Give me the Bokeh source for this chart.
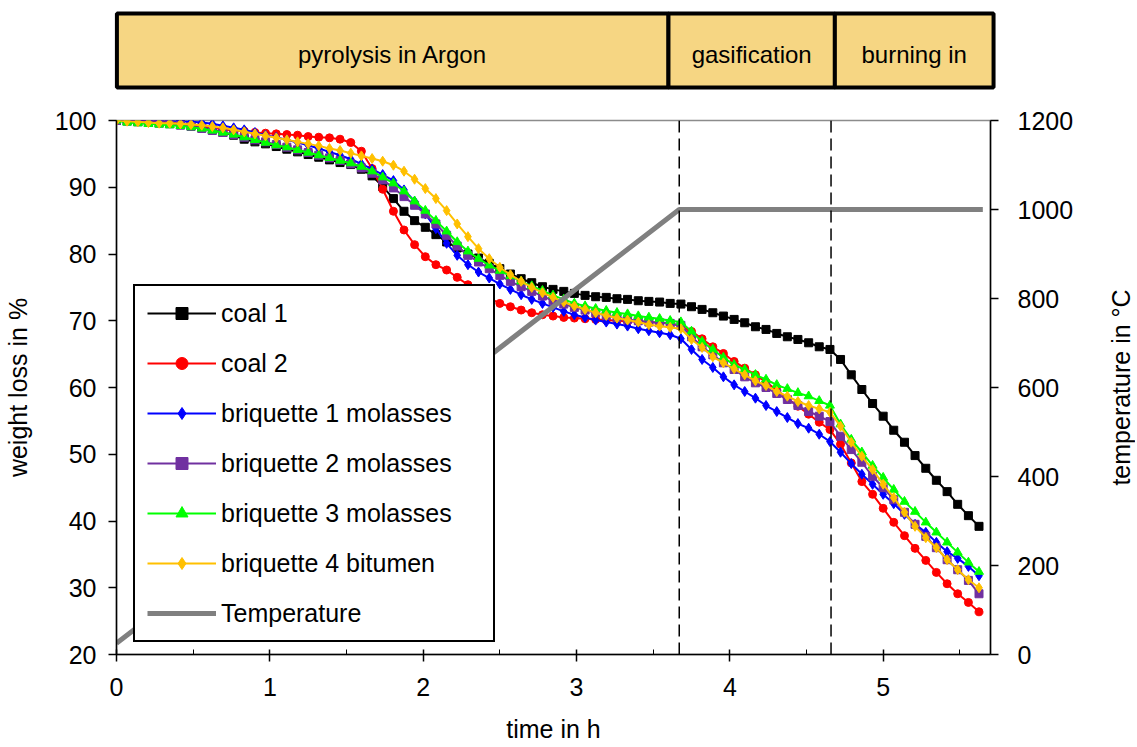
import math
from bokeh.plotting import figure
from bokeh.models import Range1d, LinearAxis, Span, FixedTicker, Legend, LegendItem
from bokeh.layouts import column, row
from bokeh.embed import file_html
from bokeh.resources import INLINE
from bokeh.core.properties import value

FONT = "Liberation Sans"

# ---------------- data ----------------
time_h = [0.000, 0.069, 0.139, 0.208, 0.278, 0.347, 0.417, 0.486, 0.556, 0.625,
          0.694, 0.764, 0.833, 0.903, 0.972, 1.042, 1.111, 1.181, 1.250, 1.319,
          1.389, 1.458, 1.528, 1.597, 1.667, 1.736, 1.806, 1.875, 1.944, 2.014,
          2.083, 2.153, 2.222, 2.292, 2.361, 2.431, 2.500, 2.569, 2.639, 2.708,
          2.778, 2.847, 2.917, 2.986, 3.056, 3.125, 3.194, 3.264, 3.333, 3.403,
          3.472, 3.542, 3.611, 3.681, 3.750, 3.819, 3.889, 3.958, 4.028, 4.097,
          4.167, 4.236, 4.306, 4.375, 4.444, 4.514, 4.583, 4.653, 4.722, 4.792,
          4.861, 4.931, 5.000, 5.069, 5.139, 5.208, 5.278, 5.347, 5.417, 5.486,
          5.556, 5.625]

coal_1 = [100.0, 100.0, 99.9, 99.8, 99.7, 99.6, 99.4, 99.2, 98.9, 98.6,
          98.2, 97.8, 97.2, 96.8, 96.5, 96.1, 95.7, 95.3, 94.9, 94.5,
          94.1, 93.7, 93.4, 92.7, 91.7, 90.1, 88.3, 86.4, 85.0, 84.0,
          82.9, 81.8, 80.9, 80.0, 79.4, 78.6, 77.8, 77.0, 76.3, 75.7,
          75.1, 74.7, 74.4, 74.1, 73.8, 73.6, 73.5, 73.3, 73.2, 73.0,
          72.9, 72.8, 72.6, 72.5, 72.1, 71.7, 71.2, 70.7, 70.2, 69.7,
          69.1, 68.7, 68.1, 67.6, 67.2, 66.7, 66.1, 65.7, 64.2, 61.9,
          59.7, 57.6, 55.7, 53.6, 51.8, 49.8, 47.9, 46.1, 44.4, 42.5,
          40.8, 39.2]

coal_2 = [100.0, 100.0, 100.0, 99.9, 99.8, 99.7, 99.5, 99.3, 99.1, 98.9,
          98.7, 98.5, 98.4, 98.2, 98.1, 98.0, 97.9, 97.8, 97.6, 97.5,
          97.4, 97.2, 96.7, 95.4, 92.8, 89.7, 86.4, 83.6, 81.4, 79.6,
          78.4, 77.6, 76.5, 75.4, 74.4, 73.4, 72.6, 72.1, 71.6, 71.2,
          70.9, 70.7, 70.5, 70.4, 70.3, 70.2, 70.1, 70.0, 69.9, 69.9,
          69.8, 69.7, 69.6, 69.2, 68.4, 67.3, 66.1, 65.1, 63.9, 62.9,
          61.9, 60.8, 59.6, 58.4, 57.2, 56.0, 54.8, 53.7, 51.5, 48.7,
          45.9, 44.0, 41.9, 39.8, 37.8, 35.9, 34.1, 32.3, 30.6, 29.1,
          27.8, 26.4]

briquette_1 = [100.0, 100.0, 100.0, 100.0, 100.0, 100.0, 99.9, 99.8, 99.7, 99.5,
               99.2, 98.9, 98.6, 98.2, 97.8, 97.5, 97.1, 96.7, 96.3, 95.8,
               95.3, 94.8, 94.2, 93.5, 92.7, 91.9, 91.0, 89.6, 87.9, 86.0,
               83.8, 81.6, 79.8, 78.4, 77.3, 76.4, 75.5, 74.7, 73.9, 73.2,
               72.6, 72.0, 71.4, 70.9, 70.5, 70.1, 69.8, 69.5, 69.2, 68.8,
               68.5, 68.2, 67.9, 67.3, 65.7, 64.2, 63.0, 61.6, 60.4, 59.4,
               58.4, 57.3, 56.4, 55.5, 54.6, 53.9, 53.0, 51.9, 50.3, 48.6,
               47.0, 45.5, 44.0, 42.6, 41.0, 39.5, 38.3, 36.8, 35.4, 34.4,
               33.2, 31.8]

briquette_2 = [100.0, 99.9, 99.8, 99.7, 99.6, 99.5, 99.3, 99.1, 98.8, 98.5,
               98.2, 97.9, 97.5, 97.1, 96.8, 96.4, 96.0, 95.6, 95.2, 94.8,
               94.4, 94.0, 93.5, 92.9, 92.1, 91.1, 89.9, 88.6, 87.3, 86.0,
               84.5, 82.8, 81.2, 79.8, 78.8, 77.8, 76.8, 75.9, 75.1, 74.4,
               73.7, 73.0, 72.5, 72.0, 71.6, 71.2, 70.8, 70.5, 70.2, 70.0,
               69.8, 69.7, 69.6, 69.3, 67.6, 66.1, 64.9, 63.7, 62.7, 61.6,
               60.7, 60.0, 59.1, 58.2, 57.3, 56.4, 55.7, 54.9, 52.7, 50.7,
               48.8, 46.7, 45.0, 43.2, 41.3, 39.5, 37.7, 36.0, 34.2, 32.7,
               31.1, 29.1]

briquette_3 = [100.0, 99.7, 99.6, 99.5, 99.4, 99.3, 99.2, 99.0, 98.8, 98.5,
               98.2, 97.9, 97.5, 97.1, 96.7, 96.3, 96.0, 95.6, 95.2, 94.8,
               94.4, 94.0, 93.6, 93.1, 92.4, 91.5, 90.6, 89.4, 87.9, 86.5,
               85.0, 83.4, 81.8, 80.4, 79.3, 78.3, 77.5, 76.7, 75.9, 75.2,
               74.5, 73.8, 73.2, 72.6, 72.2, 71.8, 71.5, 71.2, 71.0, 70.7,
               70.5, 70.3, 70.0, 69.8, 68.4, 66.9, 65.7, 64.5, 63.4, 62.7,
               61.9, 61.2, 60.4, 59.8, 59.2, 58.7, 58.0, 57.3, 54.5, 52.2,
               50.3, 48.3, 46.5, 44.7, 42.9, 41.4, 39.8, 38.3, 36.8, 35.3,
               33.8, 32.4]

briquette_4 = [100.0, 99.9, 99.8, 99.7, 99.6, 99.6, 99.5, 99.4, 99.3, 99.1,
               98.9, 98.6, 98.3, 98.0, 97.7, 97.4, 97.1, 96.8, 96.5, 96.2,
               95.8, 95.5, 95.1, 94.7, 94.3, 93.9, 93.3, 92.4, 91.2, 89.8,
               88.3, 86.5, 84.5, 82.6, 80.8, 79.3, 78.0, 76.9, 75.9, 75.0,
               74.2, 73.5, 72.8, 72.2, 71.7, 71.2, 70.8, 70.4, 70.1, 69.8,
               69.4, 69.2, 69.0, 68.8, 67.2, 66.0, 64.6, 63.7, 62.8, 61.9,
               61.0, 60.3, 59.4, 58.7, 57.9, 57.3, 56.8, 56.3, 54.2, 51.8,
               49.7, 47.7, 45.5, 43.5, 41.3, 39.2, 37.5, 36.0, 34.2, 32.7,
               31.2, 30.0]

temp_time_h = [0.0, 3.67, 5.65]
temperature_c = [25, 1000, 1000]

phase_boundaries_h = [3.67, 4.66]
phase_names = ["pyrolysis in Argon", "gasification", "burning in"]
phase_start_h = [0.0, 3.58, 4.66]
phase_end_h = [3.58, 4.66, 5.69]

x_ticks = [0, 1, 2, 3, 4, 5]
x_minor_ticks = [0.5, 1.5, 2.5, 3.5, 4.5, 5.5]
y_left_ticks = [20, 30, 40, 50, 60, 70, 80, 90, 100]
y_right_ticks = [0, 200, 400, 600, 800, 1000, 1200]

series = [
    ("coal 1", coal_1, "#000000", "square", 8),
    ("coal 2", coal_2, "#FF0000", "circle", 8),
    ("briquette 1 molasses", briquette_1, "#0000FF", "diamond", 10),
    ("briquette 2 molasses", briquette_2, "#7030A0", "square", 8),
    ("briquette 3 molasses", briquette_3, "#00FF00", "triangle", 9),
    ("briquette 4 bitumen", briquette_4, "#FFC000", "diamond", 10),
]

MAIN_W = 1106
TITLE_W = 29
MAIN_H = 645
BANNER_H = 100

# ---------------- banner ----------------
banner = figure(width=MAIN_W, height=BANNER_H, x_range=Range1d(-0.1, 5.8), y_range=Range1d(0, 100),
                toolbar_location=None, output_backend="svg",
                x_axis_location=None, y_axis_location=None,
                min_border_left=101, min_border_right=96, min_border_top=0, min_border_bottom=0)
banner.frame_align = False
banner.grid.visible = False
banner.outline_line_color = None
banner.quad(left=phase_start_h, right=phase_end_h, bottom=13, top=87,
            fill_color="#F6D683", line_color="black", line_width=4)
phase_mid = [(a + b) / 2 for a, b in zip(phase_start_h, phase_end_h)]
banner.text(x=phase_mid, y=[46] * len(phase_mid), text=phase_names,
            text_font=value(FONT), text_font_size="24px", text_color="black",
            text_align="center", text_baseline="middle")

# ---------------- main plot ----------------
p = figure(width=MAIN_W, height=MAIN_H, x_range=Range1d(0, 5.7), y_range=Range1d(20, 100),
           toolbar_location=None, output_backend="svg",
           min_border_left=116, min_border_right=116, min_border_top=20, min_border_bottom=91)
p.frame_align = False
p.grid.visible = False
p.outline_line_color = "#8c8c8c"
p.outline_line_width = 1.5
p.extra_y_ranges = {"temp": Range1d(0, 1200)}

right_axis = LinearAxis(y_range_name="temp")
p.add_layout(right_axis, "right")

for ax in p.xaxis + p.yaxis + [right_axis]:
    ax.axis_line_color = "black"
    ax.axis_line_width = 1.5
    ax.major_tick_line_color = "black"
    ax.major_tick_line_width = 1.5
    ax.minor_tick_line_color = "black"
    ax.major_label_text_font = FONT
    ax.major_label_text_font_size = "25px"
    ax.major_label_text_color = "black"
    ax.axis_label_text_font = FONT
    ax.axis_label_text_font_size = "25px"
    ax.axis_label_text_font_style = "normal"
    ax.axis_label_text_color = "black"

xa = p.xaxis[0]
xa.ticker = FixedTicker(ticks=x_ticks, minor_ticks=x_minor_ticks)
xa.major_tick_in = 5
xa.major_tick_out = 7
xa.minor_tick_in = 5
xa.minor_tick_out = 0
xa.major_label_standoff = 16
xa.axis_label = "time in h"
xa.axis_label_standoff = 16

ya = p.yaxis[0]
ya.ticker = FixedTicker(ticks=y_left_ticks)
ya.major_tick_in = 0
ya.major_tick_out = 8
ya.major_label_standoff = 12
ya.axis_label = "weight loss in %"
ya.axis_label_standoff = 20

right_axis.ticker = FixedTicker(ticks=y_right_ticks)
right_axis.major_tick_in = 0
right_axis.major_tick_out = 8
right_axis.major_label_standoff = 19

for b in phase_boundaries_h:
    p.add_layout(Span(location=b, dimension="height", line_color="black",
                      line_width=1.5, line_dash="12 6"))

items = []
for label, vals, color, marker, size in series:
    lr = p.line(time_h, vals, line_color=color, line_width=2)
    sr = p.scatter(time_h, vals, marker=marker, size=size, fill_color=color, line_color=color)
    items.append(LegendItem(label=label, renderers=[lr, sr]))

tr = p.line(temp_time_h, temperature_c, y_range_name="temp", line_color="#808080", line_width=5)
items.append(LegendItem(label="Temperature", renderers=[tr]))

legend = Legend(items=items, location=(17, 12))
legend.border_line_color = "black"
legend.border_line_alpha = 1.0
legend.border_line_width = 2
legend.background_fill_color = "white"
legend.background_fill_alpha = 1.0
legend.label_text_font = FONT
legend.label_text_font_size = "25px"
legend.label_text_color = "black"
legend.glyph_width = 69
legend.glyph_height = 30
legend.label_height = 30
legend.label_width = 260
legend.label_standoff = 5
legend.spacing = 20
legend.padding = 12
legend.margin = 0
p.add_layout(legend)

# ---------------- right-axis title (reads bottom to top) ----------------
total_h = BANNER_H + MAIN_H
title_fig = figure(width=TITLE_W, height=total_h, x_range=Range1d(0, 1), y_range=Range1d(0, total_h),
                   toolbar_location=None, output_backend="svg",
                   x_axis_location=None, y_axis_location=None,
                   min_border_left=0, min_border_right=0, min_border_top=0, min_border_bottom=0)
title_fig.frame_align = False
title_fig.grid.visible = False
title_fig.outline_line_color = None
frame_mid_from_bottom = 91 + (MAIN_H - 20 - 91) / 2
title_fig.text(x=[0.5], y=[frame_mid_from_bottom], text=["temperature in \u00b0C"],
               angle=math.pi / 2, text_font=value(FONT), text_font_size="25px",
               text_color="black", text_align="center", text_baseline="middle")

layout = row(column(banner, p), title_fig)
open("out.html", "w").write(file_html(layout, INLINE))
